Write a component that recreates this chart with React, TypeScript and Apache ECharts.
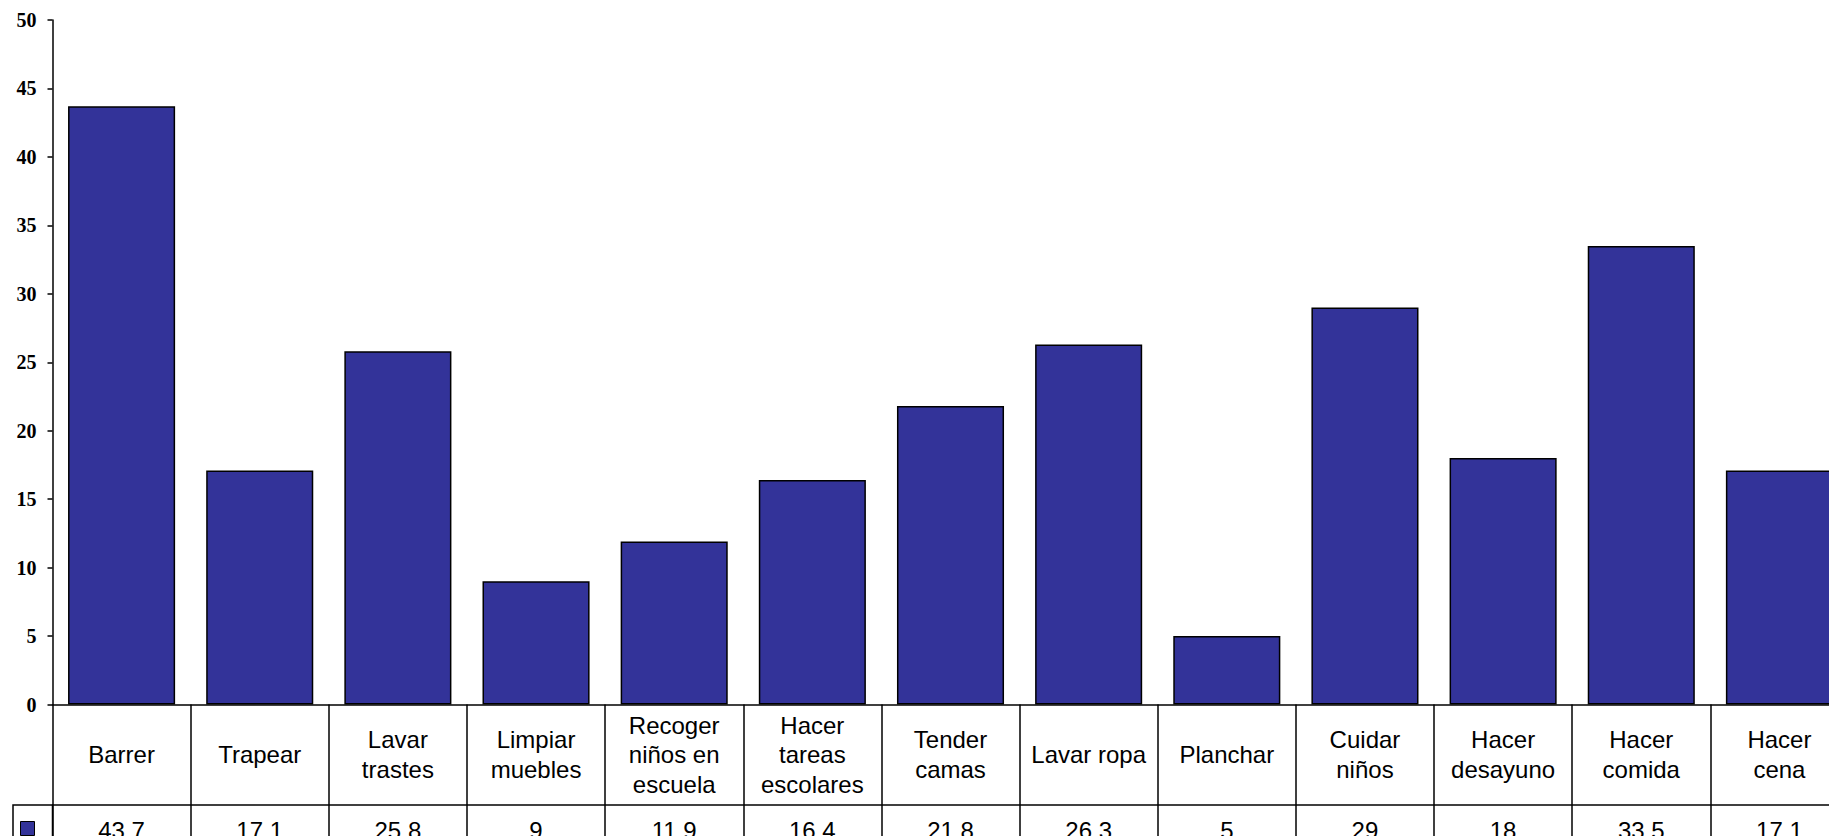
import React, { useEffect, useRef } from "react";
import * as echarts from "echarts";

const categories: string[] = [
  "Barrer",
  "Trapear",
  "Lavar\ntrastes",
  "Limpiar\nmuebles",
  "Recoger\nniños en\nescuela",
  "Hacer\ntareas\nescolares",
  "Tender\ncamas",
  "Lavar ropa",
  "Planchar",
  "Cuidar\nniños",
  "Hacer\ndesayuno",
  "Hacer\ncomida",
  "Hacer\ncena",
];

const values: number[] = [43.7, 17.1, 25.8, 9, 11.9, 16.4, 21.8, 26.3, 5, 29, 18, 33.5, 17.1];

const yMin = 0;
const yMax = 50;
const yStep = 5;

export default function App() {
  const ref = useRef<HTMLDivElement>(null);

  useEffect(() => {
    if (!ref.current) return;
    const chart = echarts.init(ref.current, null, { renderer: "svg" });
    const lineStyle = { color: "#000", width: 1.5 };
    chart.setOption({
      animation: false,
      backgroundColor: "#fff",
      grid: { left: 52.5, top: 20, width: 1796, height: 684.5 },
      legend: {
        show: true,
        left: 20,
        top: 821,
        icon: "rect",
        itemWidth: 14,
        itemHeight: 14,
        itemGap: 0,
        padding: 0,
        formatter: () => "",
        itemStyle: { color: "#333399", borderColor: "#000", borderWidth: 1 },
      },
      xAxis: [
        {
          type: "category",
          data: categories,
          position: "bottom",
          axisLine: { show: true, lineStyle },
          axisTick: { show: true, interval: 0, length: 160, lineStyle },
          axisLabel: {
            interval: 0,
            margin: 50,
            verticalAlign: "middle",
            align: "center",
            fontFamily: "Liberation Sans",
            fontSize: 24,
            lineHeight: 29.5,
            color: "#000",
          },
          splitLine: { show: false },
        },
        {
          type: "category",
          data: categories,
          position: "bottom",
          offset: 100.5,
          axisLine: { show: true, lineStyle },
          axisTick: { show: false },
          axisLabel: {
            interval: 0,
            margin: 25,
            verticalAlign: "middle",
            align: "center",
            fontFamily: "Liberation Sans",
            fontSize: 24,
            color: "#000",
            formatter: (_v: string, i: number) => String(values[i]),
          },
          splitLine: { show: false },
        },
      ],
      yAxis: {
        type: "value",
        min: yMin,
        max: yMax,
        interval: yStep,
        axisLine: { show: true, lineStyle },
        axisTick: { show: true, length: 5, inside: false, lineStyle },
        axisLabel: {
          margin: 16,
          fontFamily: "Liberation Serif",
          fontWeight: "bold",
          fontSize: 20,
          color: "#000",
        },
        splitLine: { show: false },
      },
      series: [
        {
          name: "Serie1",
          type: "bar",
          xAxisIndex: 0,
          data: values,
          barCategoryGap: "22.5%",
          itemStyle: { color: "#333399", borderColor: "#000", borderWidth: 1.5 },
        },
      ],
      graphic: [
        {
          type: "rect",
          shape: { x: 13, y: 805, width: 39.5, height: 80 },
          style: { fill: "none", stroke: "#000", lineWidth: 1.5 },
          z: 10,
        },
      ],
    });
    return () => chart.dispose();
  }, []);

  return (
    <div
      style={{
        position: "fixed",
        left: 0,
        top: 0,
        width: 1829,
        height: 836,
        overflow: "hidden",
        background: "#fff",
      }}
    >
      <div ref={ref} style={{ width: 1870, height: 900 }} />
    </div>
  );
}
